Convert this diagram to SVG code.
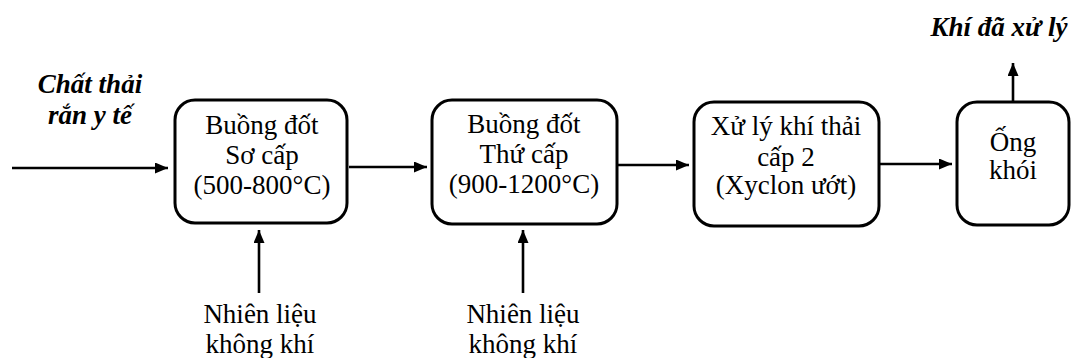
<svg xmlns="http://www.w3.org/2000/svg" width="1072" height="358" viewBox="0 0 1072 358">
  <defs>
    <marker id="arrow" viewBox="0 0 13 11" refX="13" refY="5.5" markerWidth="13" markerHeight="11" markerUnits="userSpaceOnUse" orient="auto">
      <path d="M0,0 L13,5.5 L0,11 Z" fill="#000"/>
    </marker>
    <style>
      .box { fill: #fff; stroke: #000; stroke-width: 3; }
      .lbl { font-family: "Liberation Serif", "Times New Roman", serif; font-size: 27px; fill: #000; text-anchor: middle; }
      .em { font-weight: bold; font-style: italic; }
      .conn { stroke: #000; stroke-width: 2.6; fill: none; marker-end: url(#arrow); }
    </style>
  </defs>

  <rect width="1072" height="358" fill="#fff"/>

  <!-- flow arrows: feed, stage-to-stage, exhaust and the two fuel/air inlets -->
  <g id="connectors">
    <line class="conn" x1="12" y1="168" x2="168" y2="168"/>
    <line class="conn" x1="349" y1="167" x2="427" y2="167"/>
    <line class="conn" x1="618" y1="165" x2="689" y2="165"/>
    <line class="conn" x1="880" y1="164" x2="952" y2="164"/>
    <line class="conn" x1="1013" y1="101" x2="1013" y2="63"/>
    <line class="conn" x1="259" y1="293" x2="259" y2="230"/>
    <line class="conn" x1="523" y1="293" x2="523" y2="230"/>
  </g>

  <g id="input-label">
    <text class="lbl em" x="90" y="93">Chất thải</text>
    <text class="lbl em" x="90" y="124">rắn y tế</text>
  </g>

  <g id="primary-chamber">
    <rect class="box" x="175" y="100" width="172" height="123" rx="20"/>
    <text class="lbl" x="262" y="134">Buồng đốt</text>
    <text class="lbl" x="262" y="164">Sơ cấp</text>
    <text class="lbl" x="262" y="194">(500-800°C)</text>
  </g>

  <g id="secondary-chamber">
    <rect class="box" x="432" y="100" width="185" height="124" rx="20"/>
    <text class="lbl" x="524" y="133">Buồng đốt</text>
    <text class="lbl" x="524" y="163">Thứ cấp</text>
    <text class="lbl" x="524" y="193">(900-1200°C)</text>
  </g>

  <g id="gas-treatment">
    <rect class="box" x="694" y="102" width="185" height="124" rx="20"/>
    <text class="lbl" x="786" y="135">Xử lý khí thải</text>
    <text class="lbl" x="786" y="166">cấp 2</text>
    <text class="lbl" x="786" y="194">(Xyclon ướt)</text>
  </g>

  <g id="chimney">
    <rect class="box" x="957" y="102" width="112" height="123" rx="20"/>
    <text class="lbl" x="1013" y="151">Ống</text>
    <text class="lbl" x="1013" y="179">khói</text>
  </g>

  <g id="output-label">
    <text class="lbl em" x="999" y="36">Khí đã xử lý</text>
  </g>

  <g id="fuel-air-1">
    <text class="lbl" x="260" y="323">Nhiên liệu</text>
    <text class="lbl" x="260" y="353">không khí</text>
  </g>

  <g id="fuel-air-2">
    <text class="lbl" x="523" y="323">Nhiên liệu</text>
    <text class="lbl" x="523" y="353">không khí</text>
  </g>
</svg>
